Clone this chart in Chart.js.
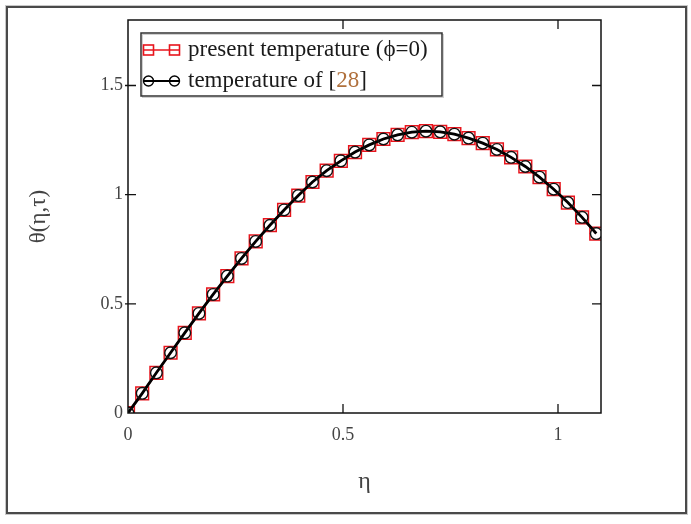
<!DOCTYPE html>
<html>
<head>
<meta charset="utf-8">
<script src="https://cdn.jsdelivr.net/npm/chart.js@4"></script>
<style>
  html, body { margin: 0; padding: 0; background: #fff; }
  #wrap { width: 691px; height: 524px; position: relative; }
</style>
</head>
<body>
<div id="wrap"><canvas id="tempChart" width="691" height="524"></canvas></div>
<script>
// eta values (x axis)
const etaValues = [0, 0.033, 0.066, 0.099, 0.132, 0.165, 0.198, 0.231, 0.264, 0.297, 0.33, 0.363,
    0.396, 0.429, 0.462, 0.495, 0.528, 0.561, 0.594, 0.627, 0.66, 0.693, 0.726, 0.759,
    0.792, 0.825, 0.858, 0.891, 0.924, 0.957, 0.99, 1.023, 1.056, 1.089];

// present temperature (phi = 0)
const presentTemp = [0, 0.09, 0.184, 0.276, 0.367, 0.456, 0.543, 0.627, 0.708, 0.786, 0.86, 0.93,
    0.996, 1.058, 1.11, 1.155, 1.195, 1.228, 1.255, 1.274, 1.286, 1.291, 1.288, 1.277,
    1.259, 1.236, 1.207, 1.171, 1.129, 1.08, 1.025, 0.964, 0.896, 0.822];

// temperature of [28]
const refTemp = [0, 0.09, 0.184, 0.276, 0.367, 0.456, 0.543, 0.627, 0.708, 0.786, 0.86, 0.93,
    0.996, 1.058, 1.11, 1.155, 1.195, 1.228, 1.255, 1.274, 1.286, 1.291, 1.288, 1.277,
    1.259, 1.236, 1.207, 1.171, 1.129, 1.08, 1.025, 0.964, 0.896, 0.822];

const xTicks = [0, 0.5, 1];
const yTicks = [0, 0.5, 1, 1.5];

const serif = "'Liberation Serif', 'DejaVu Serif', serif";

function toPoints(xs, ys) {
    return xs.map((x, i) => ({ x: x, y: ys[i] }));
}

// frame, inward ticks and the legend box
const decorPlugin = {
    id: 'decor',
    afterDraw(chart) {
        const ctx = chart.ctx;
        const a = chart.chartArea;
        const xs = chart.scales.x;
        const ys = chart.scales.y;
        ctx.save();

        // outer frame
        ctx.strokeStyle = '#c8c8c8';
        ctx.lineWidth = 1;
        ctx.strokeRect(5.5, 5.5, 682, 509);
        ctx.strokeStyle = '#4a4a4a';
        ctx.lineWidth = 2;
        ctx.strokeRect(7, 7, 679, 506);

        // plot box
        ctx.strokeStyle = '#111';
        ctx.lineWidth = 1.5;
        ctx.strokeRect(a.left, a.top, a.right - a.left, a.bottom - a.top);

        // inward ticks
        ctx.lineWidth = 1.3;
        ctx.beginPath();
        xTicks.forEach(v => {
            const px = xs.getPixelForValue(v);
            if (v === 0) return;
            ctx.moveTo(px, a.bottom); ctx.lineTo(px, a.bottom - 9);
            ctx.moveTo(px, a.top); ctx.lineTo(px, a.top + 9);
        });
        yTicks.forEach(v => {
            const py = ys.getPixelForValue(v);
            if (v === 0) return;
            ctx.moveTo(a.left - 3, py); ctx.lineTo(a.left + 8, py);
            ctx.moveTo(a.right, py); ctx.lineTo(a.right - 9, py);
        });
        ctx.stroke();

        // legend
        const lx = 141, ly = 33, lw = 301, lh = 63;
        ctx.fillStyle = '#fff';
        ctx.fillRect(lx, ly, lw, lh);
        ctx.strokeStyle = '#d0d0d0';
        ctx.lineWidth = 1;
        ctx.strokeRect(lx + 1.5, ly + 1.5, lw, lh);
        ctx.strokeStyle = '#333';
        ctx.lineWidth = 1.5;
        ctx.strokeRect(lx, ly, lw, lh);

        const row1 = 50, row2 = 81;
        // red squares
        ctx.strokeStyle = '#e8141c';
        ctx.lineWidth = 1.6;
        ctx.beginPath();
        ctx.moveTo(144, row1); ctx.lineTo(179, row1);
        ctx.stroke();
        ctx.strokeRect(143.5, row1 - 5, 10, 10);
        ctx.strokeRect(169.5, row1 - 5, 10, 10);
        // black circles
        ctx.strokeStyle = '#000';
        ctx.lineWidth = 2;
        ctx.beginPath();
        ctx.moveTo(144, row2); ctx.lineTo(179, row2);
        ctx.stroke();
        ctx.lineWidth = 1.4;
        ctx.beginPath(); ctx.arc(148.5, row2, 5, 0, Math.PI * 2); ctx.stroke();
        ctx.beginPath(); ctx.arc(174.5, row2, 5, 0, Math.PI * 2); ctx.stroke();

        ctx.font = '23px ' + serif;
        ctx.textBaseline = 'middle';
        ctx.textAlign = 'left';
        ctx.fillStyle = '#1a1a1a';
        ctx.fillText('present temperature (\u03D5=0)', 188, row1);
        let tx = 188;
        const t1 = 'temperature of [';
        ctx.fillText(t1, tx, row2);
        tx += ctx.measureText(t1).width;
        ctx.fillStyle = '#b0703c';
        ctx.fillText('28', tx, row2);
        tx += ctx.measureText('28').width;
        ctx.fillStyle = '#1a1a1a';
        ctx.fillText(']', tx, row2);

        ctx.restore();
    }
};

const chartCtx = document.getElementById('tempChart').getContext('2d');
const tempChart = new Chart(chartCtx, {
    type: 'scatter',
    data: {
        datasets: [{
            label: 'temperature of [28]',
            data: toPoints(etaValues, refTemp),
            showLine: true,
            order: 1,
            borderColor: '#000',
            borderWidth: 2.8,
            pointStyle: 'circle',
            pointRadius: 5.8,
            pointBorderWidth: 1.4,
            pointBorderColor: '#111',
            pointBackgroundColor: 'rgba(0,0,0,0)'
        }, {
            label: 'present temperature (\u03D5=0)',
            data: toPoints(etaValues, presentTemp),
            showLine: true,
            order: 2,
            borderColor: '#e8141c',
            borderWidth: 2,
            pointStyle: 'rect',
            pointRadius: 9,
            pointBorderWidth: 1.5,
            pointBorderColor: '#e8141c',
            pointBackgroundColor: 'rgba(255,255,255,0.6)'
        }]
    },
    options: {
        responsive: false,
        animation: false,
        layout: { padding: { top: 20, right: 90, left: 0, bottom: 0 } },
        plugins: {
            legend: { display: false },
            tooltip: { enabled: false }
        },
        scales: {
            x: {
                type: 'linear',
                min: 0,
                max: 1.1,
                afterBuildTicks: scale => { scale.ticks = xTicks.map(v => ({ value: v })); },
                afterFit: scale => { scale.height = 111; },
                grid: { display: false, drawTicks: false },
                border: { display: false },
                ticks: {
                    padding: 11,
                    color: '#444',
                    font: { family: serif, size: 18 },
                    maxRotation: 0,
                    callback: v => String(v)
                },
                title: {
                    display: true,
                    text: 'η',
                    color: '#444',
                    font: { family: serif, size: 24 },
                    padding: { top: 0, bottom: 28 }
                }
            },
            y: {
                type: 'linear',
                min: 0,
                max: 1.8,
                afterBuildTicks: scale => { scale.ticks = yTicks.map(v => ({ value: v })); },
                afterFit: scale => { scale.width = 128; },
                grid: { display: false, drawTicks: false },
                border: { display: false },
                ticks: {
                    padding: 5,
                    color: '#444',
                    font: { family: serif, size: 18 },
                    callback: v => String(v)
                },
                title: {
                    display: true,
                    text: 'θ(η,τ)',
                    color: '#444',
                    font: { family: serif, size: 23 },
                    padding: { top: 25, bottom: 0 }
                }
            }
        }
    },
    plugins: [decorPlugin]
});
</script>
</body>
</html>
